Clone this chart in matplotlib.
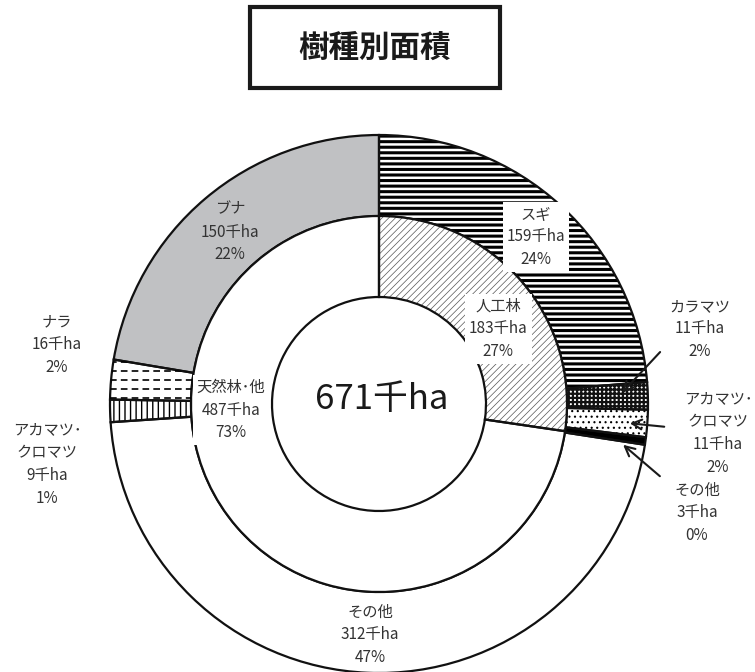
import numpy as np
import matplotlib
matplotlib.use("Agg")
import matplotlib.pyplot as plt
from matplotlib.patches import Rectangle

plt.rcParams['font.family'] = ['Noto Sans CJK JP', 'DejaVu Sans']

# data (千ha / %)
title = '樹種別面積'
total = 671
inner_names = ['人工林', '天然林･他']
inner_values = [183, 487]
inner_pct = [27, 73]
outer_names = ['スギ', 'カラマツ', 'アカマツ･\nクロマツ', 'その他',
               'その他', 'アカマツ･\nクロマツ', 'ナラ', 'ブナ']
outer_values = [159, 11, 11, 3, 312, 9, 16, 150]
outer_pct = [24, 2, 2, 0, 47, 1, 2, 22]

W, H = 755, 672
CX, CY = 379, 404          # chart centre, pixels from top
R_OUT, R_MID, R_IN = 269, 188, 107


def py(y):
    # pixel-from-top -> data y
    return H - y


fig = plt.figure(figsize=(W / 100, H / 100), dpi=100)
ax = fig.add_axes([0, 0, 1, 1])

# fill / hatch styles for each ring
outer_styles = [
    dict(fc='white', hatch='---', hc='black', hlw=2.2),
    dict(fc='white', hatch='++++', hc='#111111', hlw=1.6),
    dict(fc='white', hatch='...', hc='black', hlw=0.8),
    dict(fc='black', hatch=None, hc='black', hlw=1),
    dict(fc='white', hatch=None, hc='black', hlw=1),
    dict(fc='white', hatch='|||', hc='black', hlw=1.0),
    dict(fc='white', hatch=None, hc='black', hlw=1),   # dashed lines drawn below
    dict(fc='#c0c1c3', hatch=None, hc='black', hlw=1),
]
inner_styles = [
    dict(fc='white', hatch='/////', hc='#555555', hlw=0.5),
    dict(fc='white', hatch=None, hc='black', hlw=1),
]


def ring(values, radius, width, styles):
    wedges, _ = ax.pie(values, radius=radius, center=(CX, py(CY)),
                       startangle=90, counterclock=False,
                       wedgeprops=dict(width=width, linewidth=0))
    for w, st in zip(wedges, styles):
        w.set_facecolor(st['fc'])
        w.set_edgecolor(st['hc'])
        if st['hatch']:
            w.set_hatch(st['hatch'])
            if hasattr(w, 'set_hatch_linewidth'):
                w.set_hatch_linewidth(st['hlw'])
    # outlines on top
    ax.pie(values, radius=radius, center=(CX, py(CY)),
           startangle=90, counterclock=False,
           wedgeprops=dict(width=width, facecolor='none',
                           edgecolor='#111111', linewidth=1.6))
    return wedges


outer_w = ring(outer_values, R_OUT, R_OUT - R_MID, outer_styles)
inner_w = ring(inner_values, R_MID, R_MID - R_IN, inner_styles)

# dashed horizontal lines in ナラ wedge
nara = outer_w[outer_names.index('ナラ')]
ext = nara.get_path().get_extents()
ys = np.arange(ext.y0 + 3, ext.y1, 9)
lc = ax.hlines(ys, ext.x0, ext.x1, colors='black', linewidth=1.2,
               linestyles=(0, (4, 2.5)))
lc.set_clip_path(nara)

ax.set_xlim(0, W)
ax.set_ylim(0, H)
ax.set_aspect('equal')
ax.set_axis_off()

# title box
ax.add_patch(Rectangle((250, py(88)), 250, 81, facecolor='white',
                       edgecolor='#1a1a1a', linewidth=3))
ax.text(375, py(48), title, ha='center', va='center', fontsize=22,
        fontweight='bold', color='#1a1a1a')

# centre total
ax.text(382, py(399), f'{total}千ha', ha='center', va='center',
        fontsize=25, color='#1a1a1a')

txt = dict(ha='center', va='center', fontsize=11, color='#333333',
           linespacing=1.45, multialignment='center')
box = dict(facecolor='white', edgecolor='none', pad=3)


def lab(name, val, pct):
    return f'{name}\n{val}千ha\n{pct}%'


# outer label positions (pixels from top)
outer_pos = [(536, 237), (700, 329), (718, 433), (697, 513),
             (370, 635), (47, 464), (57, 345), (230, 232)]
outer_box = [True, False, False, False, False, False, False, False]
for name, v, p, (x, y), b in zip(outer_names, outer_values, outer_pct,
                                 outer_pos, outer_box):
    ax.text(x, py(y), lab(name, v, p), bbox=box if b else None, **txt)

inner_pos = [(498, 329), (231, 410)]
for name, v, p, (x, y) in zip(inner_names, inner_values, inner_pct, inner_pos):
    ax.text(x, py(y), lab(name, v, p), bbox=box, **txt)

# leader arrows for the small planted slices
arrows = [((662, 350), (620, 395)),
          ((667, 427), (627, 423)),
          ((662, 478), (621, 443))]
for (x0, y0), (x1, y1) in arrows:
    ax.annotate('', xy=(x1, py(y1)), xytext=(x0, py(y0)),
                arrowprops=dict(arrowstyle='->,head_length=0.7,head_width=0.35',
                                color='#1a1a1a', lw=1.5))

fig.savefig('out.png', dpi=100)
